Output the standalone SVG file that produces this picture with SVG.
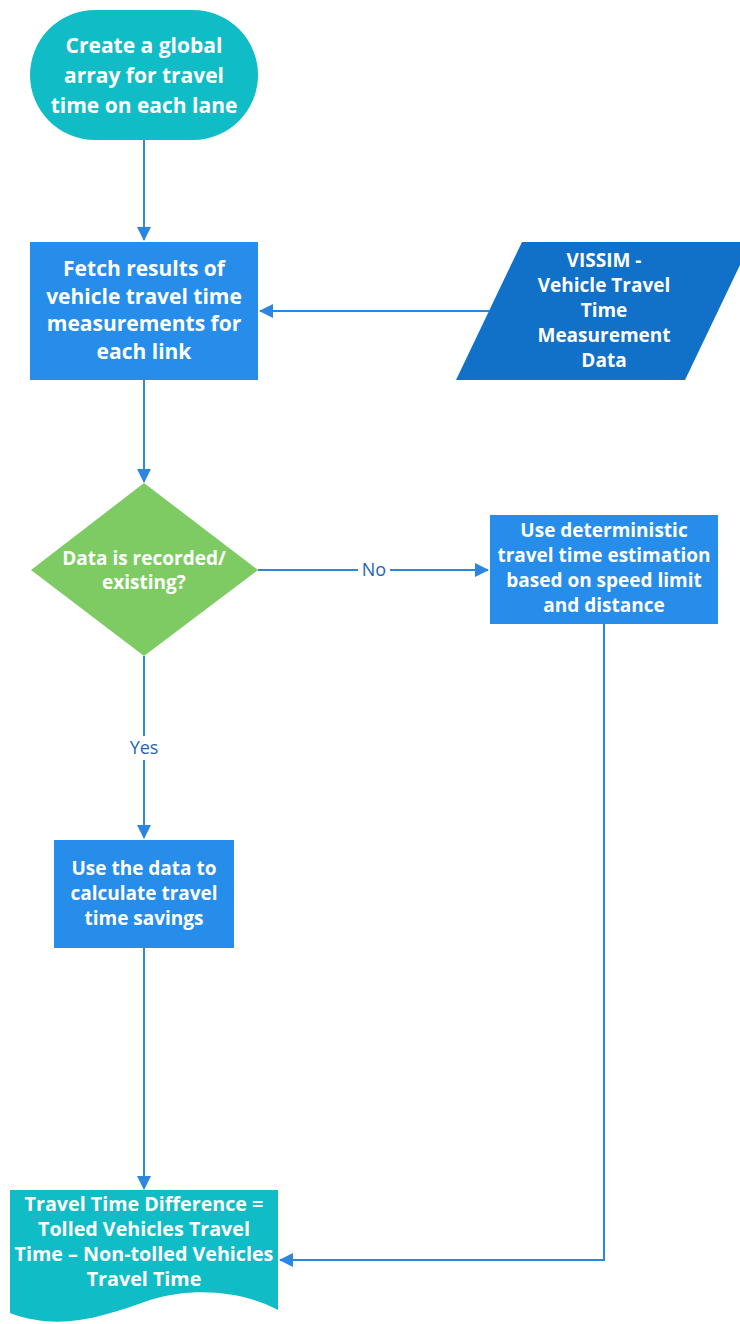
<svg xmlns="http://www.w3.org/2000/svg" width="740" height="1324" viewBox="0 0 740 1324">
  <style>
    .lbl { font-family: "Open Sans", "Noto Sans", sans-serif; font-weight: bold; fill: #ffffff; text-anchor: middle; }
    .edge { fill: none; stroke: #2B86E0; stroke-width: 2; }
    .elbl { font-family: "Open Sans", "Noto Sans", sans-serif; font-size: 18px; fill: #1F64B4; text-anchor: middle; }
  </style>
  <defs>
    <marker id="arrow" viewBox="0 0 14 14" refX="13" refY="7" markerWidth="14" markerHeight="14" markerUnits="userSpaceOnUse" orient="auto">
      <path d="M0,0 L14,7 L0,14 Z" fill="#2B86E0"/>
    </marker>
  </defs>

  <g id="connectors">
    <path class="edge" d="M144,140 V240" marker-end="url(#arrow)"/>
    <path class="edge" d="M489,311 H260" marker-end="url(#arrow)"/>
    <path class="edge" d="M144,380 V482" marker-end="url(#arrow)"/>
    <path class="edge" d="M258,570 H488" marker-end="url(#arrow)"/>
    <path class="edge" d="M144,656 V838" marker-end="url(#arrow)"/>
    <path class="edge" d="M144,948 V1189" marker-end="url(#arrow)"/>
    <path class="edge" d="M604,624 V1260 H280" marker-end="url(#arrow)"/>
    <rect x="358" y="558" width="32" height="24" fill="#ffffff"/>
    <text class="elbl" x="374" y="576">No</text>
    <rect x="126" y="736" width="36" height="24" fill="#ffffff"/>
    <text class="elbl" x="144" y="754">Yes</text>
  </g>

  <g id="start">
    <rect x="30" y="10" width="228" height="130" rx="65" ry="65" fill="#10BDC7"/>
    <text class="lbl" font-size="21" x="144"><tspan x="144" y="53">Create a global</tspan><tspan x="144" y="83">array for travel</tspan><tspan x="144" y="113">time on each lane</tspan></text>
  </g>

  <g id="fetch">
    <rect x="30" y="242" width="228" height="138" fill="#268DEA"/>
    <text class="lbl" font-size="21" x="144"><tspan x="144" y="276">Fetch results of</tspan><tspan x="144" y="304">vehicle travel time</tspan><tspan x="144" y="331">measurements for</tspan><tspan x="144" y="359">each link</tspan></text>
  </g>

  <g id="vissim">
    <polygon points="522,242 751,242 685,380 456,380" fill="#1171C9"/>
    <text class="lbl" font-size="19" x="604"><tspan x="604" y="267">VISSIM -</tspan><tspan x="604" y="292">Vehicle Travel</tspan><tspan x="604" y="317">Time</tspan><tspan x="604" y="342">Measurement</tspan><tspan x="604" y="367">Data</tspan></text>
  </g>

  <g id="decision">
    <polygon points="144,483 258,570 144,656 31,570" fill="#7ECB63"/>
    <text class="lbl" font-size="19" x="144"><tspan x="144" y="565">Data is recorded/</tspan><tspan x="144" y="589">existing?</tspan></text>
  </g>

  <g id="estimate">
    <rect x="490" y="515" width="228" height="109" fill="#268DEA"/>
    <text class="lbl" font-size="19" x="604"><tspan x="604" y="537">Use deterministic</tspan><tspan x="604" y="562">travel time estimation</tspan><tspan x="604" y="587">based on speed limit</tspan><tspan x="604" y="612">and distance</tspan></text>
  </g>

  <g id="savings">
    <rect x="54" y="840" width="180" height="108" fill="#268DEA"/>
    <text class="lbl" font-size="19" x="144"><tspan x="144" y="875">Use the data to</tspan><tspan x="144" y="900">calculate travel</tspan><tspan x="144" y="925">time savings</tspan></text>
  </g>

  <g id="difference">
    <path d="M10,1190 H278 V1310 C245,1292 195,1286 150,1300 C105,1316 60,1332 10,1313 Z" fill="#10BDC7"/>
    <text class="lbl" font-size="19.7" x="144"><tspan x="144" y="1211">Travel Time Difference =</tspan><tspan x="144" y="1236">Tolled Vehicles Travel</tspan><tspan x="144" y="1261">Time – Non-tolled Vehicles</tspan><tspan x="144" y="1286">Travel Time</tspan></text>
  </g>
</svg>
